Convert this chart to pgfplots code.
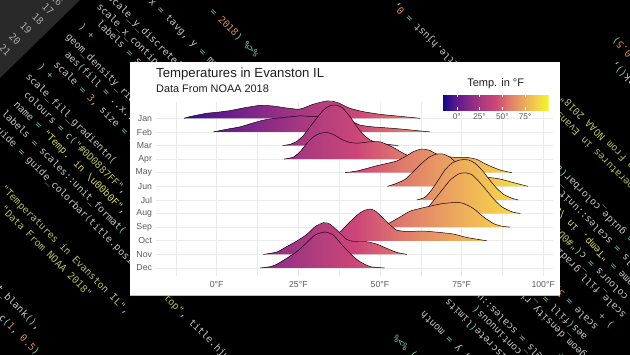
\documentclass[border=0pt]{standalone}
\usepackage{pgfplots}
\pgfplotsset{compat=1.18}
\usepackage{fontspec}
\setmainfont{Liberation Sans}
\newfontfamily\codefam{DejaVu Sans Mono}
\definecolor{cg}{HTML}{C4C4C4}
\definecolor{ct}{HTML}{6FC3A0}
\definecolor{co}{HTML}{D78A4A}
\definecolor{cs}{HTML}{B4BE5A}
\definecolor{cy}{HTML}{D8D860}
\definecolor{tick}{HTML}{5C5C5C}
\definecolor{p0}{HTML}{0D0887}
\definecolor{p1}{HTML}{5B1990}
\definecolor{p2}{HTML}{872988}
\definecolor{p3}{HTML}{AC3B7F}
\definecolor{p4}{HTML}{CC4678}
\definecolor{p5}{HTML}{DF7B6C}
\definecolor{p6}{HTML}{EBA45F}
\definecolor{p7}{HTML}{F5CC4C}
\definecolor{p8}{HTML}{F0F921}
\pgfplotsset{colormap={plasma}{color=(p0) color=(p1) color=(p2) color=(p3) color=(p4) color=(p5) color=(p6) color=(p7) color=(p8)}}
\pgfdeclarehorizontalshading{plasmaH}{100bp}{color(0bp)=(p0); color(25bp)=(p0); color(31.25bp)=(p1); color(37.5bp)=(p2); color(43.75bp)=(p3); color(50bp)=(p4); color(56.25bp)=(p5); color(62.5bp)=(p6); color(68.75bp)=(p7); color(75bp)=(p8); color(100bp)=(p8)}
\newcommand\T[1]{{\color{ct}#1}}
\newcommand\N[1]{{\color{co}#1}}
\newcommand\Sx[1]{{\color{cs}#1}}
\newcommand\cl[3]{\node[rotate=-45,anchor=mid west,inner sep=0pt,font=\codefam\fontsize{9.8}{10}\selectfont,text=cg] at (#1,{355-#2}) {#3};}
\newcommand\gn[3]{\node[rotate=-45,inner sep=0pt,font=\codefam\fontsize{9.8}{10}\selectfont,text=cg!85!black] at (#1,{355-#2}) {#3};}
\newcommand\allcode{%
\cl{211}{10}{\T{=} \N{2018}\T{)} \T{\%>\%}}
\cl{150}{0}{x \T{=} tavg, y \T{=} month}
\cl{109}{-4}{scale\_y\_discrete\T{(}limits \T{=} month\T{)} \T{+}}
\cl{98}{5}{scale\_x\_continuous\T{(}}
\cl{98}{22}{labels \T{=} scales::unit\_format\T{(}}
\cl{80}{25}{\T{)} \T{+}}
\cl{67}{35}{geom\_density\_ridges\T{(}}
\cl{66}{53}{aes\T{(}fill \T{=} ..x..\T{)},}
\cl{55}{63}{scale \T{=} \N{3}, size \T{=} \N{0.3}}
\cl{39}{65}{\T{)} \T{+}}
\cl{27}{75}{scale\_fill\_gradientn\T{(}}
\cl{25}{93}{colours \T{=} c\T{(}\Sx{"\#0D0887FF"},}
\cl{15}{103}{name \T{=} {\color{cy}"Temp. in \textbackslash u00b0F"},}
\cl{3}{112}{labels \T{=} scales::unit\_format\T{(}}
\cl{-6}{125}{guide \T{=} guide\_colorbar\T{(}title.position \T{=} \Sx{"top"}, title.hjust \T{=} \N{0},}
\cl{-31}{154}{title \T{=} \Sx{"Temperatures in Evanston IL"},}
\cl{-44}{162}{subtitle \T{=} \Sx{"Data From NOAA 2018"}}
\cl{-28}{262}{element\_blank\T{()},}
\cl{0}{316}{c\T{(}\N{1}, \N{0.5}\T{)}}
}
\newcommand\ridgeplot[2]{%
\addplot[shading=plasmaH,draw=none,mark=none,forget plot,unbounded coords=jump] coordinates {(-15.4,#2) (nan,nan) #1 (nan,nan) (100.9,#2)};
\addplot[color=black!85!violet,line width=0.5pt,smooth,tension=0.4,mark=none,forget plot] coordinates {#1};
}
\newcommand\ridge[2]{%
\gdef\rtop{}%
\foreach \rx/\ry in {#2}{%
\pgfmathsetmacro\yy{#1+\ry/13.61}%
\xdef\rtop{\rtop (\rx,\yy)}}%
\edef\rtemp{\noexpand\ridgeplot{\rtop}{#1}}\rtemp
}
\begin{document}
\begin{tikzpicture}[x=1pt,y=1pt]
\path[use as bounding box] (0,0) rectangle (630,355);
\fill[black] (0,0) rectangle (630,355);
\begin{scope}
\clip (0,0) rectangle (630,355);
\fill[black!84] (0,355)--(80,355)--(0,277)--cycle;
\gn{57}{0}{16}\gn{48}{9}{17}\gn{38}{19}{18}\gn{26}{28}{19}\gn{15}{39}{20}\gn{5}{50}{21}
\allcode
\begin{scope}[rotate around={180:(326,159)},transform shape]
\allcode
\end{scope}
\end{scope}
\fill[white] (130,60) rectangle (559.5,293);
\draw[black!25,line width=0.5pt] (130,60)--(559.5,60);
\node[anchor=base west,inner sep=0pt,font=\fontsize{13.2}{14}\selectfont,text=black!88] at (156,277.5) {Temperatures in Evanston IL};
\node[anchor=base west,inner sep=0pt,font=\fontsize{10.9}{12}\selectfont,text=black!88] at (156,262) {Data From NOAA 2018};
\node[anchor=base,inner sep=0pt,font=\fontsize{11}{12}\selectfont,text=black!88] at (495.7,268.3) {Temp. in °F};
\begin{axis}[at={(156pt,79pt)},anchor=south west,scale only axis,width=397pt,height=174.3pt,
 xmin=-18.6,xmax=103,ymin=0.412,ymax=13.22,clip=false,
 axis line style={draw=none},major tick length=0pt,minor tick length=0pt,
 xtick={0,25,50,75,100},xticklabels={0°F,25°F,50°F,75°F,100°F},
 minor xtick={-12.5,12.5,37.5,62.5,87.5},
 ytick={1,...,12},yticklabels={Dec,Nov,Oct,Sep,Aug,Jul,Jun,May,Apr,Mar,Feb,Jan},
 xmajorgrids,ymajorgrids,xminorgrids,
 major grid style={color=black!8,line width=0.8pt},
 minor grid style={color=black!8,line width=0.4pt},
 tick label style={font=\fontsize{8.7}{10}\selectfont,text=tick},
 xticklabel style={yshift=-2pt},
 yticklabel style={xshift=-0.5pt},
 colormap name=plasma,point meta min=-15.4,point meta max=100.9,
 colorbar horizontal,
 colorbar style={at={(0.7222,0.952)},anchor=south west,scale only axis,width=106pt,height=16.7pt,
  xtick={0,25,50,75},xticklabels={0°,25°,50°,75°},
  xtick pos=both,xticklabel pos=lower,tick align=inside,major tick length=3.3pt,
  tick style={color=white,line width=0.5pt},axis line style={draw=none},
  tick label style={font=\fontsize{8.3}{10}\selectfont,text=tick}},
]
\ridge{12}{-10/0,-8.2/1.7,-3.1/5,0/6,4.1/7.7,8.1/10.3,13.3/13,17.2/12.3,21.4/10.3,25/9,26.4/10,29.5/14,33.7/17.3,36.8/16,40.8/10,44.8/6.7,50/4,57/1.7,62.3/0}
\ridge{11}{-1/0,3.1/2.7,7.1/5,11.2/9,14.2/11.7,17.2/13.3,21.4/14.7,25.5/16,28.6/15.5,33/15.5,38/14,41.8/10,43.9/6.7,47.9/5,52.2/4,57/2.7,65.3/0}
\ridge{10}{20.2/0,22.5/1.2,24.4/3.8,26.5/9.8,28.6/18.8,30.6/27.2,32.7/35.5,34.7/39.8,36.2/40.5,38.3/38.2,40.8/29,42.9/19,44.9/11,47/5.5,49/2.8,52.1/1.2,55.6/0}
\ridge{9}{20.6/0,23.5/2,25.5/7.3,27.6/15.7,29.6/22.3,31.6/25.7,33.7/26.7,35.7/24.7,38.3/19.7,40.8/16.7,43.3/16,47/17.3,50/17.3,52.1/14.7,54.6/10.7,57.2/5.7,59.8/2,62.3/0}
\ridge{8}{39.3/0,42.9/1.7,46/4.3,49/7,52.1/9.3,55.1/11.7,58.2/17,60.2/21,62.8/23.7,65.3/22.3,66.9/19.3,70/16.5,72.4/15.5,76.6/15.3,79.7/13.3,81.6/10,83.7/6.7,86.8/2.7,90.4/0}
\ridge{7}{52.3/0,55.1/3,57.7/7,60.2/14.7,62.8/23,65.3/29.7,67.4/32.3,69.4/32.3,71.5/29,73/24.7,75.2/19,77.6/11,80.7/9,83.7/8.7,86.8/7.3,90.9/3.7,95.3/0}
\ridge{6}{61.3/0,63.8/2.7,65.8/10,67.9/20,69.9/30,72/36.7,74.5/40,77.1/40,79.1/36.7,81.2/30,83.2/21.7,85.3/13.3,87.8/5.7,90.4/1.7,92.4/0}
\ridge{5}{62.8/0,63.8/2,65.3/8.5,67.4/16.8,69.4/25,71.5/33.5,74/39.5,76.1/40.8,78.1/39,80.1/32.8,82.2/25,84.7/15,87.3/6.8,90.4/1.8,93/0}
\ridge{4}{49.4/0,52.6/3.7,56.2/10.3,59.2/16,62.3/18.7,65.3/21,69.4/23.7,73.5/24.7,75.6/23.7,78.6/18.7,81.7/10.3,84.7/3.7,87.3/1,89.9/0}
\ridge{3}{28.6/0,31.6/1.5,34.7/4,37.8/9,39.8/15.7,41.9/22.3,43.9/28,45.5/30.7,47/31.7,48.5/30,50.5/24,52.6/17.3,55.1/10.7,58.2/9.3,63.3/9.7,68.4/8.3,72.5/6.7,76.6/3.3,82.7/0}
\ridge{2}{14.3/0,18.4/2.3,21.4/7.7,24.5/13.3,27.6/20,30.1/27.7,32.7/31.7,34.7/30.3,37.3/22.7,39.8/15,41.9/13,45.9/12.7,49/10.3,52.1/6,55.1/2,58.2/0}
\ridge{1}{13.3/0,16.3/1.3,18.4/3.7,21.4/9.7,24.5/16.3,27.6/25.3,30.1/33,33.2/36,35.7/33,37.8/25.3,39.8/18,41.9/11.3,43.9/6.3,47/1.3,51.4/0}
\end{axis}
\end{tikzpicture}
\end{document}
